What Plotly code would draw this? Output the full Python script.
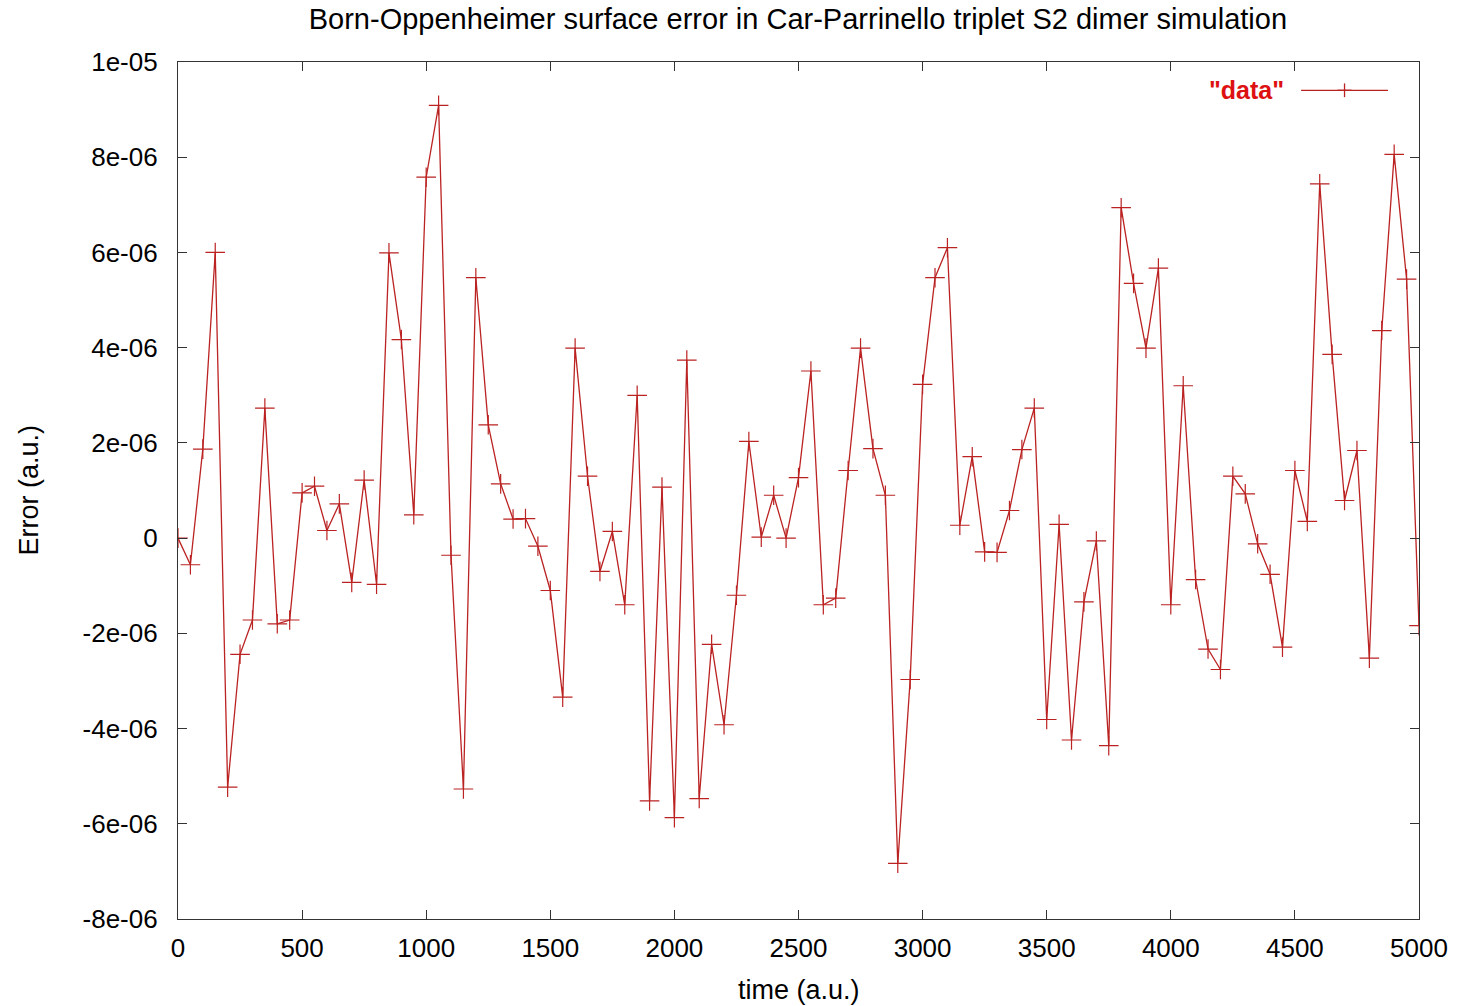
import plotly.graph_objects as go

# Sampled simulation time (a.u.) and Born-Oppenheimer surface error (a.u.)
time_au = [i * 50 for i in range(101)]
error_au = [
    0.0, -0.56e-6, 1.87e-6, 6.0e-6, -5.23e-6, -2.44e-6, -1.72e-6, 2.73e-6, -1.8e-6, -1.72e-6,
    0.95e-6, 1.09e-6, 0.16e-6, 0.72e-6, -0.93e-6, 1.22e-6, -0.97e-6, 5.99e-6, 4.17e-6, 0.49e-6,
    7.58e-6, 9.09e-6, -0.36e-6, -5.27e-6, 5.47e-6, 2.38e-6, 1.14e-6, 0.4e-6, 0.41e-6, -0.17e-6,
    -1.1e-6, -3.34e-6, 3.99e-6, 1.3e-6, -0.7e-6, 0.14e-6, -1.4e-6, 3.0e-6, -5.52e-6, 1.07e-6,
    -5.87e-6, 3.74e-6, -5.47e-6, -2.23e-6, -3.92e-6, -1.2e-6, 2.03e-6, 0.02e-6, 0.9e-6, 0.0,
    1.27e-6, 3.51e-6, -1.4e-6, -1.26e-6, 1.42e-6, 3.99e-6, 1.88e-6, 0.9e-6, -6.83e-6, -2.97e-6,
    3.23e-6, 5.47e-6, 6.1e-6, 0.27e-6, 1.71e-6, -0.29e-6, -0.3e-6, 0.58e-6, 1.86e-6, 2.73e-6,
    -3.81e-6, 0.29e-6, -4.24e-6, -1.34e-6, -0.06e-6, -4.36e-6, 6.94e-6, 5.35e-6, 3.99e-6, 5.67e-6,
    -1.4e-6, 3.2e-6, -0.87e-6, -2.33e-6, -2.76e-6, 1.3e-6, 0.93e-6, -0.12e-6, -0.76e-6, -2.29e-6,
    1.42e-6, 0.35e-6, 7.44e-6, 3.86e-6, 0.79e-6, 1.84e-6, -2.52e-6, 4.36e-6, 8.06e-6, 5.44e-6,
    -1.84e-6,
]

x_ticks = [0, 500, 1000, 1500, 2000, 2500, 3000, 3500, 4000, 4500, 5000]
y_ticks = [1e-05, 8e-06, 6e-06, 4e-06, 2e-06, 0, -2e-06, -4e-06, -6e-06, -8e-06]
y_tick_text = ["1e-05", "8e-06", "6e-06", "4e-06", "2e-06", "0",
               "-2e-06", "-4e-06", "-6e-06", "-8e-06"]

LINE_RED = "#bb2222"
FONT = "Liberation Sans"

fig = go.Figure()
fig.add_trace(go.Scatter(
    x=time_au, y=error_au,
    mode="lines+markers",
    name='"data"',
    line=dict(color=LINE_RED, width=1.3),
    marker=dict(symbol="cross-thin", size=14, line=dict(color=LINE_RED, width=1.2)),
    showlegend=False,
))

axis_common = dict(
    showgrid=False, zeroline=False, automargin=False,
    showline=True, linecolor="#333333", linewidth=1.2, mirror="ticks",
    ticks="inside", ticklen=9, tickwidth=1.2, tickcolor="#333333",
    tickfont=dict(family=FONT, size=26, color="#000000"),
)

fig.update_xaxes(range=[0, 5000], tickvals=x_ticks, ticklabelstandoff=6, **axis_common)
fig.update_yaxes(
    range=[-8e-06, 1e-05], tickvals=y_ticks, ticktext=y_tick_text, ticklabelstandoff=14,
    **axis_common,
)

# Axis titles placed as free text so the plot frame keeps its size
fig.add_annotation(
    xref="paper", yref="paper", x=0.5, y=0, yshift=-71,
    xanchor="center", yanchor="middle",
    text="time (a.u.)", showarrow=False,
    font=dict(family=FONT, size=27, color="#000000"),
)
fig.add_annotation(
    xref="paper", yref="paper", x=0, y=0.5, xshift=-150,
    xanchor="center", yanchor="middle", textangle=-90,
    text="Error (a.u.)", showarrow=False,
    font=dict(family=FONT, size=27, color="#000000"),
)

# Key: label on the left, line sample with a cross on the right
fig.add_annotation(
    xref="paper", yref="paper", x=0.8925, y=0.967, xanchor="right", yanchor="middle",
    text='<b>"data"</b>', showarrow=False,
    font=dict(family=FONT, size=25, color="#dd1111"),
)
fig.add_shape(type="line", xref="paper", yref="paper",
              x0=0.905, x1=0.975, y0=0.967, y1=0.967,
              line=dict(color=LINE_RED, width=1.3))
fig.add_shape(type="line", xref="paper", yref="paper",
              x0=0.9343, x1=0.9457, y0=0.967, y1=0.967,
              line=dict(color=LINE_RED, width=1.3))
fig.add_shape(type="line", xref="paper", yref="paper",
              x0=0.94, x1=0.94, y0=0.959, y1=0.975,
              line=dict(color=LINE_RED, width=1.3))

fig.update_layout(
    width=1460, height=1006,
    margin=dict(l=178, r=41, t=62, b=87),
    paper_bgcolor="#ffffff", plot_bgcolor="#ffffff",
    title=dict(
        text="Born-Oppenheimer surface error in Car-Parrinello triplet S2 dimer simulation",
        x=0.5465, xanchor="center", y=0.981, yanchor="middle",
        font=dict(family=FONT, size=29, color="#000000"),
    ),
)

fig.write_html("out.html")
